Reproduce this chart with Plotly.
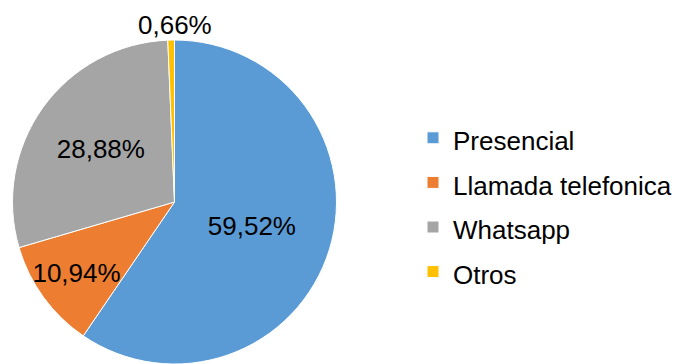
import plotly.graph_objects as go

labels = ["Presencial", "Llamada telefonica", "Whatsapp", "Otros"]
values = [59.52, 10.94, 28.88, 0.66]
colors = ["#5B9BD5", "#ED7D31", "#A5A5A5", "#FFC000"]

text_labels = [f"{v:.2f}".replace(".", ",") + "%" for v in values]
legend_names = [f'<span style="font-size:26px">{l}</span>' for l in labels]

W, H = 677, 364
FONT = "Arial, Liberation Sans, sans-serif"
D = 324          # pie domain size in px
CX = 174.5       # pie centre x in px

# the tiny slice's label is shown above the pie (as in the reference)
pie_text = text_labels[:3] + [""]

fig = go.Figure(go.Pie(
    labels=legend_names,
    values=values,
    text=pie_text,
    textinfo="text",
    textposition="inside",
    insidetextorientation="horizontal",
    sort=False,
    direction="clockwise",
    rotation=0,
    marker=dict(colors=colors, line=dict(color="white", width=1)),
    textfont=dict(family=FONT, size=26, color="black"),
    insidetextfont=dict(family=FONT, size=26, color="black"),
    hoverinfo="skip",
    domain=dict(x=[(CX - D / 2) / W, (CX + D / 2) / W], y=[0, D / H]),
))

fig.add_annotation(
    text=text_labels[3],
    x=CX / W, xref="paper", xanchor="center",
    y=D / H, yref="paper", yanchor="bottom",
    yshift=-2,
    showarrow=False,
    font=dict(family=FONT, size=26, color="black"),
)

fig.update_layout(
    width=W, height=H,
    margin=dict(l=0, r=0, t=0, b=0),
    paper_bgcolor="white",
    plot_bgcolor="white",
    font=dict(family=FONT, color="black"),
    uniformtext=dict(minsize=26, mode="show"),
    showlegend=True,
    legend=dict(
        x=413 / W, xanchor="left",
        y=1 - 205 / H, yanchor="middle",
        font=dict(family=FONT, size=32, color="black"),
        bgcolor="rgba(0,0,0,0)",
    ),
)

fig.write_html("out.html")
